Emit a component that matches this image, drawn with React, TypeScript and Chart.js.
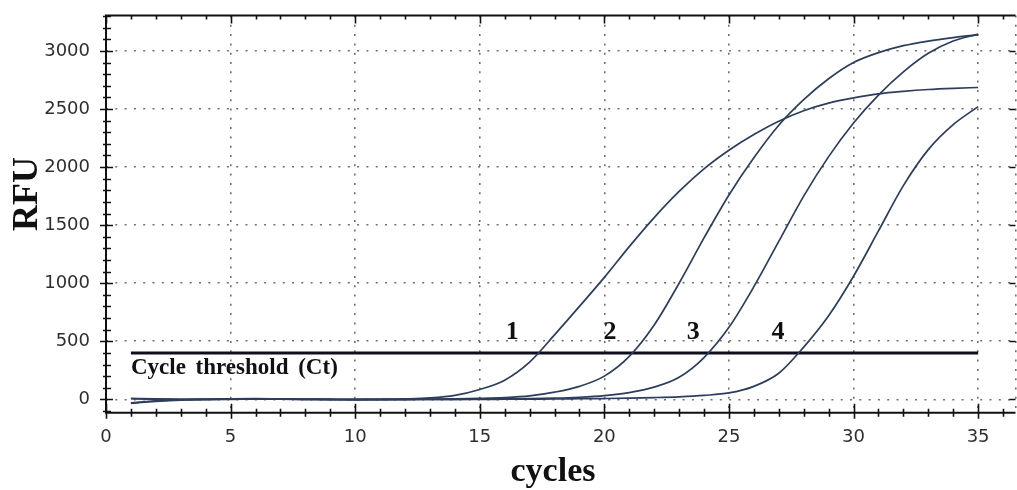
import React, { useEffect, useRef } from 'react';
import { Chart, registerables } from 'chart.js';

Chart.register(...registerables);

// ---------- data ----------
const CYCLES = [1, 2, 3, 4, 5, 6, 7, 8, 9, 10, 11, 12, 13, 14, 15, 16, 17, 18, 19, 20, 21, 22, 23, 24, 25, 26, 27, 28, 29, 30, 31, 32, 33, 34, 35];

const CURVE_1 = [-35, -18, -6, 0, 4, 6, 4, 2, 0, 0, 1, 4, 12, 34, 85, 165, 320, 555, 800, 1050, 1315, 1565, 1790, 1985, 2145, 2280, 2395, 2485, 2550, 2595, 2630, 2652, 2668, 2678, 2685];
const CURVE_2 = [5, 2, 0, 0, 2, 4, 2, 0, -2, -2, 0, 0, 2, 4, 8, 15, 30, 62, 112, 200, 370, 640, 1000, 1390, 1760, 2080, 2360, 2580, 2760, 2900, 2985, 3045, 3085, 3115, 3140];
const CURVE_3 = [-30, -12, -4, 0, 2, 3, 2, 0, -1, -2, -2, -1, 0, 0, 2, 4, 6, 10, 18, 32, 58, 105, 190, 360, 620, 970, 1360, 1750, 2090, 2380, 2620, 2820, 2980, 3085, 3145];
const CURVE_4 = [8, 4, 1, 0, 0, 2, 1, 0, -1, -2, -2, -2, -1, 0, 0, 1, 2, 3, 5, 7, 10, 15, 22, 34, 55, 112, 225, 450, 720, 1060, 1450, 1840, 2150, 2365, 2520];

const CURVES = [CURVE_1, CURVE_2, CURVE_3, CURVE_4];
const CURVE_NAMES = ['1', '2', '3', '4'];
const CURVE_NAME_CYCLES = [16.3, 20.23, 23.57, 26.97];
const CURVE_NAME_RFU = 518;

const THRESHOLD_RFU = 400;
const THRESHOLD_CYCLES = [1, 35];
const THRESHOLD_TEXT = 'Cycle threshold (Ct)';
const THRESHOLD_TEXT_CYCLE = 1;
const THRESHOLD_TEXT_RFU = 218;

const X_TICKS = [0, 5, 10, 15, 20, 25, 30, 35];
const Y_TICKS = [0, 500, 1000, 1500, 2000, 2500, 3000];
const X_MIN = 0;
const X_MAX = 36.5;
const Y_MIN = -115;
const Y_MAX = 3305;
const X_TITLE = 'cycles';
const Y_TITLE = 'RFU';

const CURVE_COLOR = '#2d3d5c';
const SERIF = '"Liberation Serif", "Times New Roman", serif';

const framePlugin = {
  id: 'frame',
  afterDatasetsDraw(chart: any) {
    const { ctx, chartArea, scales } = chart;
    const xs = scales.x;
    const ys = scales.y;
    const { left, right, top, bottom } = chartArea;
    ctx.save();
    ctx.strokeStyle = '#111';
    ctx.lineWidth = 2;
    ctx.beginPath();
    ctx.moveTo(left, top);
    ctx.lineTo(right, top);
    ctx.moveTo(left, top - 1);
    ctx.lineTo(left, bottom + 1);
    ctx.moveTo(left - 1, bottom);
    ctx.lineTo(right, bottom);
    ctx.stroke();
    ctx.lineWidth = 1.6;
    ctx.beginPath();
    for (let c = 0; c <= Math.floor(X_MAX); c++) {
      const px = Math.round(xs.getPixelForValue(c)) + 0.5;
      const major = c % 5 === 0;
      if (major) {
        ctx.moveTo(px, bottom - 9);
        ctx.lineTo(px, bottom + 6);
        ctx.moveTo(px, top);
        ctx.lineTo(px, top + 8);
      } else {
        ctx.moveTo(px, bottom - 4);
        ctx.lineTo(px, bottom + 4);
        ctx.moveTo(px, top);
        ctx.lineTo(px, top + 4);
      }
    }
    for (let v = -100; v <= Y_MAX; v += 100) {
      const py = Math.round(ys.getPixelForValue(v)) + 0.5;
      const major = v % 500 === 0;
      if (major) {
        ctx.moveTo(left - 6, py);
        ctx.lineTo(left + 7, py);
        ctx.moveTo(right - 6, py);
        ctx.lineTo(right, py);
      } else {
        ctx.moveTo(left - 3, py);
        ctx.lineTo(left + 5, py);
      }
    }
    ctx.stroke();

    ctx.fillStyle = '#111';
    ctx.font = `bold 26px ${SERIF}`;
    ctx.textAlign = 'center';
    ctx.textBaseline = 'alphabetic';
    CURVE_NAMES.forEach((n, i) => {
      ctx.fillText(n, xs.getPixelForValue(CURVE_NAME_CYCLES[i]), ys.getPixelForValue(CURVE_NAME_RFU));
    });
    ctx.font = `bold 23px ${SERIF}`;
    ctx.textAlign = 'left';
    try { (ctx as any).wordSpacing = '4px'; } catch (e) { /* ignore */ }
    ctx.fillText(THRESHOLD_TEXT, xs.getPixelForValue(THRESHOLD_TEXT_CYCLE), ys.getPixelForValue(THRESHOLD_TEXT_RFU));
    try { (ctx as any).wordSpacing = '0px'; } catch (e) { /* ignore */ }
    ctx.font = `bold 34px ${SERIF}`;
    ctx.textAlign = 'center';
    ctx.fillText(X_TITLE, 553, bottom + 68);
    ctx.save();
    ctx.font = `bold 36px ${SERIF}`;
    ctx.translate(37, 194);
    ctx.rotate(-Math.PI / 2);
    ctx.fillText(Y_TITLE, 0, 0);
    ctx.restore();
    ctx.restore();
  },
};

export default function App() {
  const ref = useRef<HTMLCanvasElement | null>(null);
  useEffect(() => {
    if (!ref.current) return;
    const curveSets = CURVES.map((vals, i) => ({
      label: CURVE_NAMES[i],
      data: CYCLES.map((c, j) => ({ x: c, y: vals[j] })),
      borderColor: CURVE_COLOR,
      borderWidth: 1.7,
      pointRadius: 0,
      cubicInterpolationMode: 'monotone',
      fill: false,
    }));
    const thresholdSet = {
      label: 'threshold',
      data: THRESHOLD_CYCLES.map((c) => ({ x: c, y: THRESHOLD_RFU })),
      borderColor: '#0e0e1c',
      borderWidth: 3,
      pointRadius: 0,
      tension: 0,
      fill: false,
    };
    const chart = new Chart(ref.current, {
      type: 'line',
      data: { datasets: [...curveSets, thresholdSet] as any },
      options: {
        animation: false,
        responsive: false,
        devicePixelRatio: 1,
        layout: { padding: { left: 0, top: 15.5, right: 1.5, bottom: 0 } },
        plugins: { legend: { display: false }, tooltip: { enabled: false }, title: { display: false } },
        scales: {
          x: {
            type: 'linear',
            min: X_MIN,
            max: X_MAX,
            afterBuildTicks: (s: any) => {
              s.ticks = [...X_TICKS, X_MAX].map((v) => ({ value: v }));
            },
            afterFit: (s: any) => {
              s.height = 77.3;
              s.paddingLeft = 0;
              s.paddingRight = 0;
            },
            grid: { color: '#707070', lineWidth: 1.6, drawTicks: false },
            border: { display: false, dash: [2, 7.3] },
            ticks: {
              autoSkip: false,
              maxRotation: 0,
              padding: 14,
              color: '#2e2e2e',
              font: { family: '"DejaVu Sans", sans-serif', size: 18 },
              callback: (v: any) => (X_TICKS.includes(Number(v)) ? String(v) : ''),
            },
          },
          y: {
            type: 'linear',
            min: Y_MIN,
            max: Y_MAX,
            afterBuildTicks: (s: any) => {
              s.ticks = Y_TICKS.map((v) => ({ value: v }));
            },
            afterFit: (s: any) => {
              s.width = 106;
              s.paddingTop = 0;
              s.paddingBottom = 0;
            },
            grid: { color: '#707070', lineWidth: 1.6, drawTicks: false },
            border: { display: false, dash: [2, 7.3] },
            ticks: {
              autoSkip: false,
              padding: 16,
              color: '#2e2e2e',
              font: { family: '"DejaVu Sans", sans-serif', size: 18 },
              callback: (v: any) => (Y_TICKS.includes(Number(v)) ? String(v) : ''),
            },
          },
        },
      } as any,
      plugins: [framePlugin],
    });
    return () => chart.destroy();
  }, []);
  return (
    <div style={{ position: 'fixed', left: 0, top: 0, width: 1017, height: 490, background: '#fff' }}>
      <canvas ref={ref} width={1017} height={490} style={{ display: 'block' }} />
    </div>
  );
}
